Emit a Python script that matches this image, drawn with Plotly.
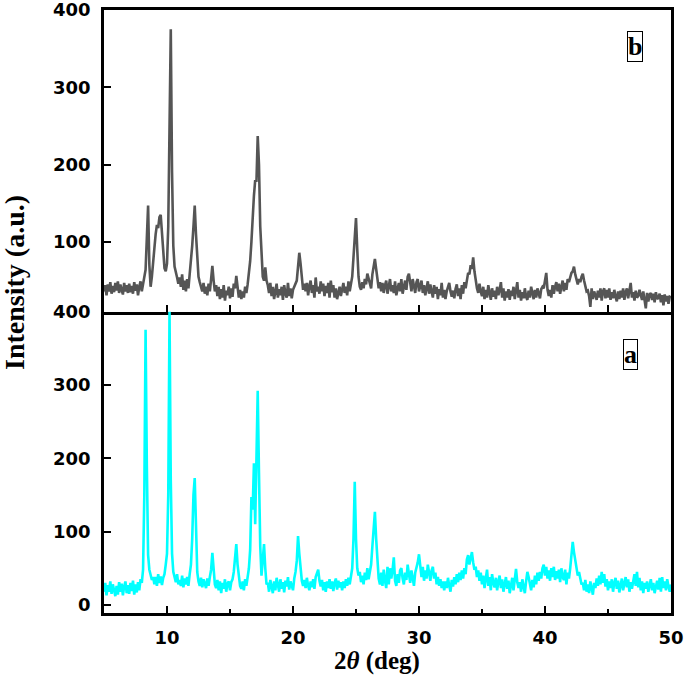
import plotly.graph_objects as go
from plotly.subplots import make_subplots

# 2-theta grid: 5.0 .. 50.0 in steps of 0.1 deg
x_start = 5.0
x_step = 0.1

# Pattern (b) - top panel, dark gray
y_b = (
    [36,44,31,45,36,48,33,43,35,47] +   # 5
    [37,49,34,45,38,32,47,36,44,34] +   # 6
    [46,35,43,33,48,37,45,31,42,49] +   # 7
    [36,45,50,64,105,147,70,42,55,78] + # 8
    [92,110,122,118,132,135,108,80,66,62] +  # 9
    [72,120,260,375,190,95,68,58,54,46] +    # 10
    [54,42,58,38,50,36,52,40,58,70] +   # 11
    [95,120,147,110,72,55,48,40,36,47] +  # 12
    [33,42,31,46,36,52,69,50,36,44] +   # 13
    [30,42,26,39,28,44,24,37,31,42] +   # 14
    [27,40,29,46,40,56,38,28,38,26] +   # 15
    [36,28,42,34,45,58,75,100,140,160] +  # 16
    [180,178,237,200,120,75,55,50,67,50] +  # 17
    [44,34,47,30,42,26,40,46,28,39] +   # 18
    [31,42,25,44,33,28,47,30,40,27] +   # 19
    [38,42,47,50,68,86,72,50,38,46] +   # 20
    [36,47,31,43,50,34,44,28,54,36] +   # 21
    [42,33,49,36,46,30,43,34,47,28] +   # 22
    [50,35,44,28,40,26,36,42,30,40] +   # 23
    [47,34,42,31,49,36,44,55,80,115] +  # 24
    [131,90,55,42,38,48,40,52,45,59] +  # 25
    [52,44,40,58,72,78,65,50,40,48] +   # 26
    [36,47,34,44,50,33,46,52,36,44] +   # 27
    [34,49,31,42,47,36,52,33,44,50] +   # 28
    [38,55,59,45,36,52,40,34,48,52] +   # 29
    [36,46,50,34,44,31,42,49,33,45] +   # 30
    [36,28,44,33,42,26,39,31,47,28] +   # 31
    [38,26,36,42,47,36,29,37,27,39] +   # 32
    [45,30,40,26,44,33,48,40,52,60] +   # 33
    [58,70,65,80,62,48,40,34,46,36] +   # 34
    [30,42,26,38,28,44,32,25,40,29] +   # 35
    [37,26,42,31,38,48,28,40,24,36] +   # 36
    [28,39,25,37,30,42,26,36,48,28] +   # 37
    [38,24,35,27,40,29,25,37,28,42] +   # 38
    [31,26,38,28,40,32,27,39,42,40] +   # 39
    [48,60,38,30,38,28,44,33,42,48] +   # 40
    [36,46,33,43,50,36,47,38,52,48] +   # 41
    [55,60,62,68,58,50,45,52,48,55] +   # 42
    [59,50,42,36,37,30,16,40,26,36] +   # 43
    [31,25,37,28,40,24,36,40,27,38] +   # 44
    [28,40,25,35,27,38,29,23,36,26] +   # 45
    [37,28,40,25,35,40,27,38,47,28] +   # 46
    [35,24,37,28,30,38,29,25,36,27] +   # 47
    [14,34,23,32,34,25,33,22,35,26] +   # 48
    [28,33,22,31,18,32,23,30,20,29] +   # 49
    [28]                                # 50
)

# Pattern (a) - bottom panel, cyan
y_a = (
    [18,30,13,27,18,32,15,28,20,12] +   # 5
    [26,14,31,18,29,13,25,32,16,27] +   # 6
    [15,30,19,33,14,28,17,31,20,35] +   # 7
    [30,48,150,375,190,68,48,40,34,38] +  # 8
    [28,38,26,42,30,39,27,37,42,55] +   # 9
    [70,150,400,170,70,45,36,31,42,28] +  # 10
    [34,26,40,24,36,28,38,26,42,55] +   # 11
    [90,150,173,90,45,32,26,37,24,35] +   # 12
    [28,23,36,26,38,48,71,45,28,23] +   # 13
    [34,20,32,16,30,22,35,18,29,32] +   # 14
    [20,31,35,45,65,83,55,35,26,22] +   # 15
    [32,20,35,26,40,50,75,147,130,193] +  # 16
    [110,200,292,180,80,40,60,83,50,28] + # 17
    [30,18,34,23,16,32,20,37,24,18] +   # 18
    [35,22,31,17,33,25,38,21,32,24] +   # 19
    [20,36,45,60,94,70,45,33,26,34] +   # 20
    [23,37,26,20,32,24,35,22,38,42] +   # 21
    [48,33,25,34,20,31,18,32,23,35] +   # 22
    [22,32,19,30,36,21,33,24,31,20] +   # 23
    [32,23,35,26,37,28,38,50,90,168] +  # 24
    [90,50,40,45,31,40,28,44,34,50] +   # 25
    [35,48,55,80,105,127,90,55,36,28] + # 26
    [44,26,48,33,23,52,28,50,36,47] +   # 27
    [65,33,26,42,30,47,50,36,28,44] +   # 28
    [34,55,38,30,47,36,26,44,50,58] +   # 29
    [69,48,38,52,33,47,36,55,40,33] +   # 30
    [47,52,36,44,28,38,26,35,23,32] +   # 31
    [20,32,23,37,26,18,34,25,38,28] +   # 32
    [42,31,44,34,47,36,50,42,62,68] +   # 33
    [55,65,72,58,48,52,38,47,33,44] +   # 34
    [28,40,23,36,48,26,38,20,42,30] +   # 35
    [24,37,20,32,40,23,35,18,31,38] +   # 36
    [22,33,16,30,37,20,32,49,31,23] +   # 37
    [31,18,35,24,16,32,45,38,26,20] +   # 38
    [34,24,40,28,44,33,45,36,50,55] +   # 39
    [40,52,36,47,33,50,38,52,34,46] +   # 40
    [36,48,31,50,38,34,48,28,44,36] +   # 41
    [50,68,86,72,60,48,40,45,33,28] +   # 42
    [30,20,34,18,28,16,32,22,14,30] +   # 43
    [23,36,26,40,28,45,30,42,25,35] +   # 44
    [20,32,23,35,18,30,37,22,33,17] +   # 45
    [29,36,20,32,38,24,35,18,31,22] +   # 46
    [33,42,26,45,24,37,20,32,16,30] +   # 47
    [22,32,18,29,35,20,30,16,28,33] +   # 48
    [21,37,18,38,23,32,20,35,25,18] +   # 49
    [28]                                # 50
)

x_b = [round(x_start + x_step * i, 1) for i in range(len(y_b))]
x_a = [round(x_start + x_step * i, 1) for i in range(len(y_a))]

y_ticks_top = [100, 200, 300, 400]
y_ticks_bottom = [0, 100, 200, 300, 400]
x_ticks = [10, 20, 30, 40, 50]

fig = make_subplots(rows=2, cols=1, shared_xaxes=True, vertical_spacing=0)

fig.add_trace(go.Scatter(x=x_b, y=y_b, mode="lines",
                         line=dict(color="#555555", width=2.6),
                         showlegend=False), row=1, col=1)
fig.add_trace(go.Scatter(x=x_a, y=y_a, mode="lines",
                         line=dict(color="#00FFFF", width=2.6),
                         showlegend=False), row=2, col=1)

tickfont = dict(family="DejaVu Sans", size=18, color="black", weight="bold")
common_axis = dict(showline=True, linecolor="black", linewidth=2.5,
                   showgrid=False, zeroline=False, ticks="inside",
                   tickcolor="black", tickwidth=2, ticklen=7, automargin=False,
                   ticklabeloverflow="allow")

# top panel x-axis draws the top border and the middle divider
fig.update_xaxes(range=[5, 50], tick0=0, dtick=5, showticklabels=False,
                 mirror=True, row=1, col=1, **common_axis)
# bottom panel x-axis draws only the bottom border (divider already drawn)
fig.update_xaxes(range=[5, 50], tickvals=x_ticks, showticklabels=True,
                 tickfont=tickfont, ticklabelstandoff=7, mirror=False,
                 minor=dict(ticks="inside", tickvals=[15, 25, 35, 45],
                            ticklen=4, tickwidth=2, tickcolor="black"),
                 row=2, col=1, **common_axis)
fig.update_yaxes(range=[10, 400], tickvals=y_ticks_top, tickfont=tickfont,
                 ticklabelstandoff=7, mirror=True, row=1, col=1, **common_axis)
fig.update_yaxes(range=[-11, 400], tickvals=y_ticks_bottom, tickfont=tickfont,
                 ticklabelstandoff=7, mirror=True, row=2, col=1, **common_axis)

serif = "Liberation Serif"
fig.add_annotation(text="<b>b</b>", xref="x domain", yref="y domain",
                   x=0.950, y=0.93, showarrow=False,
                   font=dict(family=serif, size=26, color="black"),
                   bordercolor="black", borderwidth=1, borderpad=0,
                   bgcolor="white")
fig.add_annotation(text="<b>a</b>", xref="x2 domain", yref="y2 domain",
                   x=0.941, y=0.91, showarrow=False,
                   font=dict(family=serif, size=26, color="black"),
                   bordercolor="black", borderwidth=1, borderpad=0,
                   bgcolor="white")

fig.add_annotation(text="<b>Intensity (a.u.)</b>", xref="paper", yref="paper",
                   x=-0.157, y=0.549, textangle=-90, showarrow=False,
                   xanchor="center", yanchor="middle",
                   font=dict(family=serif, size=28, color="black"))
fig.add_annotation(text="<b>2<i>θ</i> (deg)</b>", xref="paper", yref="paper",
                   x=0.481, y=-0.079, showarrow=False,
                   xanchor="center", yanchor="middle",
                   font=dict(family=serif, size=25, color="black"))

fig.update_layout(width=685, height=678,
                  margin=dict(l=104, r=14, t=10, b=65, autoexpand=False),
                  paper_bgcolor="white", plot_bgcolor="white")

# remove the browser's default 8px body margin so the figure sits at (0, 0)
fig.write_html("out.html", config={"displayModeBar": False},
               post_script="document.body.style.margin='0';")
